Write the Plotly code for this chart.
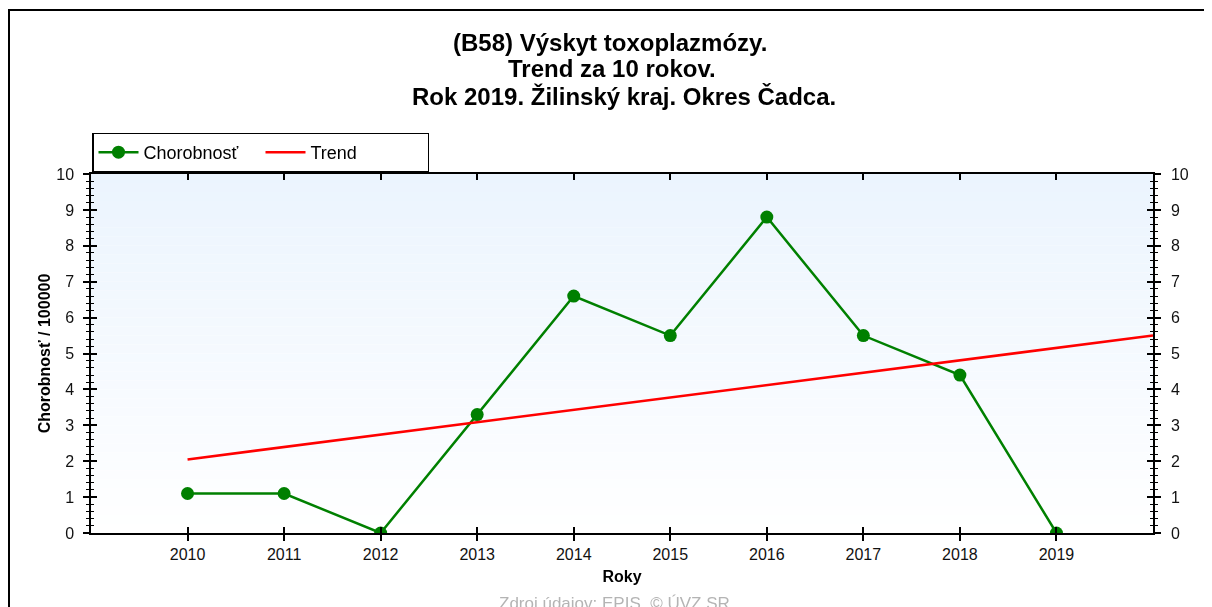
import plotly.graph_objects as go

years = [2010, 2011, 2012, 2013, 2014, 2015, 2016, 2017, 2018, 2019]
chorobnost = [1.1, 1.1, 0.0, 3.3, 6.6, 5.5, 8.8, 5.5, 4.4, 0.0]
trend_x = [2010, 2020]
trend_y = [2.05, 5.5]
y_ticks = [0, 1, 2, 3, 4, 5, 6, 7, 8, 9, 10]

title_lines = ["(B58) Výskyt toxoplazmózy.", "Trend za 10 rokov.", "Rok 2019. Žilinský kraj. Okres Čadca."]
y_title = "Chorobnosť / 100000"
x_title = "Roky"
source = "Zdroj údajov: EPIS, © ÚVZ SR"

OFF = 8  # page body margin
W, H = 1212 - OFF, 607 - OFF
# plot area in page pixels
L, R, T, B = 91, 1153, 174, 533
FONT = "Liberation Sans, Arial, sans-serif"

def px(x):
    return (x - L) / (R - L)

def py(y):
    return (B - y) / (B - T)

fig = go.Figure()
fig.add_trace(go.Scatter(
    x=years, y=chorobnost, name="Chorobnosť", mode="lines+markers",
    line=dict(color="#008000", width=2.5),
    marker=dict(color="#008000", size=13, symbol="circle"),
    xaxis="x", yaxis="y"))
fig.add_trace(go.Scatter(
    x=trend_x, y=trend_y, name="Trend", mode="lines",
    line=dict(color="#ff0000", width=2.5),
    xaxis="x", yaxis="y"))
# invisible helpers so overlay axes are drawn
fig.add_trace(go.Scatter(x=years, y=chorobnost, mode="markers", opacity=0,
                         showlegend=False, hoverinfo="skip", xaxis="x2", yaxis="y3"))
fig.add_trace(go.Scatter(x=years, y=chorobnost, mode="markers", opacity=0,
                         showlegend=False, hoverinfo="skip", xaxis="x", yaxis="y2"))

shapes = []
# gradient background of plot area
n = 40
top = (235, 244, 254)
for i in range(n):
    f = i / (n - 1)
    c = tuple(round(top[k] + (255 - top[k]) * f) for k in range(3))
    shapes.append(dict(type="rect", xref="paper", yref="paper",
                       x0=0, x1=1, y0=1 - (i + 1) / n, y1=1 - i / n,
                       fillcolor="rgb(%d,%d,%d)" % c, line=dict(width=0), layer="below"))
# outer frame
shapes.append(dict(type="rect", xref="paper", yref="paper",
                   x0=px(9), x1=px(1240), y0=py(660), y1=py(10),
                   line=dict(color="black", width=2), fillcolor="rgba(0,0,0,0)", layer="above"))

annotations = []
title_x = [610, 612, 624]
title_y = [42, 69, 97]
for i, t in enumerate(title_lines):
    annotations.append(dict(text="<b>%s</b>" % t, x=px(title_x[i]), y=py(title_y[i]),
                            xref="paper", yref="paper", showarrow=False,
                            xanchor="center", yanchor="middle",
                            font=dict(family=FONT, size=24, color="black")))
annotations.append(dict(text=source, x=px(614), y=py(603), xref="paper", yref="paper",
                        showarrow=False, xanchor="center", yanchor="middle",
                        font=dict(family=FONT, size=17, color="#b4b4b4")))

axis_font = dict(family=FONT, size=16, color="#111")
common_y = dict(range=[0, 10], tickvals=y_ticks, showgrid=False, zeroline=False,
                linecolor="black", linewidth=1.5, tickcolor="black", fixedrange=True)
fig.update_layout(
    width=W, height=H,
    margin=dict(l=L - OFF, r=1212 - R, t=T - OFF, b=607 - B),
    paper_bgcolor="white", plot_bgcolor="rgba(0,0,0,0)",
    shapes=shapes, annotations=annotations,
    showlegend=True,
    legend=dict(orientation="h", x=px(92), y=py(152.5), xanchor="left", yanchor="middle",
                bordercolor="black", borderwidth=1.5, bgcolor="white",
                font=dict(family=FONT, size=18, color="black"),
                entrywidth=112, itemwidth=40, tracegroupgap=0),
    xaxis=dict(range=[2009, 2020], tickvals=years, ticks="outside", ticklen=6,
               tickwidth=1.5, tickcolor="black", showline=True, linecolor="black",
               linewidth=1.5, mirror=True, showgrid=False, zeroline=False,
               tickfont=axis_font, ticklabelstandoff=0,
               title=dict(text="<b>%s</b>" % x_title, font=dict(family=FONT, size=16, color="black"), standoff=9)),
    xaxis2=dict(range=[2009, 2020], tickvals=years, overlaying="x", anchor="y",
                ticks="inside", ticklen=6, tickwidth=1.5, tickcolor="black",
                mirror="ticks", showline=False, showticklabels=False,
                showgrid=False, zeroline=False, side="bottom"),
    yaxis=dict(**common_y, ticks="outside", ticklen=6, tickwidth=1.5, showline=True,
               mirror=True, tickfont=axis_font, ticklabelstandoff=6,
               minor=dict(ticks="outside", dtick=0.2, ticklen=3, tickcolor="black", tickwidth=1),
               title=dict(text="<b>%s</b>" % y_title, font=dict(family=FONT, size=16, color="black"), standoff=2)),
    yaxis2=dict(**common_y, overlaying="y", side="right", anchor="x",
                ticks="outside", ticklen=6, tickwidth=1.5, showline=True,
                tickfont=axis_font, ticklabelstandoff=7,
                minor=dict(ticks="outside", dtick=0.2, ticklen=3, tickcolor="black", tickwidth=1)),
    yaxis3=dict(**common_y, overlaying="y", side="left", anchor="x2",
                ticks="inside", ticklen=6, tickwidth=1.5, mirror="ticks",
                showline=False, showticklabels=False,
                minor=dict(ticks="inside", dtick=0.2, ticklen=3, tickcolor="black", tickwidth=1)),
)

fig.write_html("out.html")
